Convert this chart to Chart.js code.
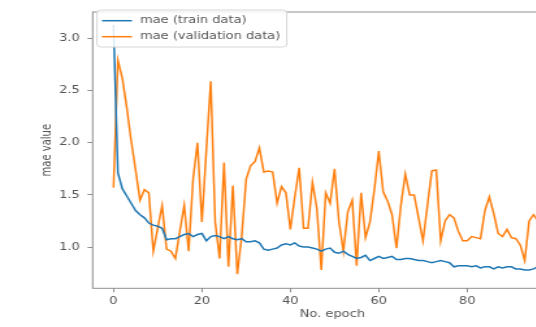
<!DOCTYPE html>
<html>
<head>
<meta charset="utf-8">
<script src="https://cdn.jsdelivr.net/npm/chart.js@4.4.1/dist/chart.umd.min.js"></script>
<style>
  html, body { margin: 0; padding: 0; background: #fff; overflow: hidden; }
  #wrap { width: 536px; height: 327px; overflow: hidden; position: relative; }
  /* the reference is stretched sideways, so the canvas is too */
  #chart { position: absolute; left: 0; top: 0; width: 460px; height: 327px;
           transform: scaleX(1.3); transform-origin: 0 0; }
</style>
</head>
<body>
<div id="wrap"><canvas id="chart" width="460" height="327"></canvas></div>
<script>
/* ====================
   DATA
==================== */
const trainMae = [
  3.13, 1.71, 1.56, 1.49, 1.42, 1.35, 1.31, 1.28, 1.23, 1.21,
  1.20, 1.18, 1.07, 1.08, 1.08, 1.10, 1.12, 1.13, 1.10, 1.12,
  1.13, 1.06, 1.10, 1.11, 1.10, 1.08, 1.10, 1.08, 1.07, 1.08,
  1.05, 1.05, 1.06, 1.04, 0.98, 0.97, 0.98, 0.99, 1.02, 1.03,
  1.02, 1.04, 1.01, 1.00, 1.00, 0.99, 0.98, 0.96, 0.98, 0.99,
  0.95, 0.94, 0.96, 0.93, 0.91, 0.89, 0.90, 0.92, 0.87, 0.89,
  0.91, 0.89, 0.90, 0.91, 0.88, 0.88, 0.89, 0.89, 0.88, 0.87,
  0.87, 0.86, 0.85, 0.86, 0.87, 0.86, 0.85, 0.81, 0.82, 0.82,
  0.82, 0.81, 0.82, 0.80, 0.81, 0.81, 0.79, 0.81, 0.80, 0.81,
  0.81, 0.79, 0.79, 0.78, 0.78, 0.79, 0.81
];
const valMae = [
  1.57, 2.79, 2.62, 2.34, 2.02, 1.74, 1.45, 1.55, 1.52, 0.96,
  1.18, 1.40, 0.98, 0.96, 0.89, 1.15, 1.40, 0.96, 1.65, 2.00,
  1.24, 1.93, 2.59, 1.24, 0.89, 1.81, 0.81, 1.59, 0.74, 1.10,
  1.65, 1.78, 1.82, 1.95, 1.72, 1.73, 1.72, 1.42, 1.58, 1.52,
  1.17, 1.48, 1.76, 1.18, 1.18, 1.62, 1.37, 0.78, 1.52, 1.42,
  1.75, 1.24, 0.96, 1.34, 1.45, 0.82, 1.52, 1.09, 1.24, 1.55,
  1.92, 1.53, 1.44, 1.31, 0.99, 1.40, 1.70, 1.50, 1.50, 1.28,
  1.06, 1.40, 1.73, 1.74, 1.06, 1.25, 1.31, 1.28, 1.15, 1.06,
  1.06, 1.10, 1.09, 1.08, 1.35, 1.48, 1.32, 1.13, 1.10, 1.17,
  1.09, 1.08, 1.02, 0.87, 1.25, 1.31, 1.25
];
const epochs = trainMae.map((_, i) => i);

const xTicks = [0, 20, 40, 60, 80];
const yTicks = [1.0, 1.5, 2.0, 2.5, 3.0];
const yTickLabels = ["1.0", "1.5", "2.0", "2.5", "3.0"];

const seriesLabels = ["mae (train data)", "mae (validation data)"];

/* ====================
   STYLE
==================== */
const FONT = { family: "'DejaVu Sans', sans-serif", size: 10 };
const TEXT = "#555";
const SPINE = "#8f8f8f";

/* ====================
   PLUGINS
==================== */
// axes frame + matplotlib style legend inside the plot
const framePlugin = {
  id: "frame",
  afterDatasetsDraw(chart) {
    const { ctx, chartArea: a } = chart;
    ctx.save();
    ctx.strokeStyle = SPINE;
    ctx.lineWidth = 1;
    ctx.strokeRect(a.left, a.top, a.right - a.left, a.bottom - a.top);

    // legend
    const bx = a.left + 3.3, by = 10, bw = 146, bh = 37;
    ctx.beginPath();
    ctx.roundRect(bx, by, bw, bh, 3);
    ctx.fillStyle = "rgba(255,255,255,0.85)";
    ctx.fill();
    ctx.strokeStyle = "#d6d6d6";
    ctx.stroke();

    ctx.font = `${FONT.size}px ${FONT.family}`;
    ctx.textBaseline = "middle";
    chart.data.datasets.forEach((ds, i) => {
      const y = by + 10.7 + i * 16;
      ctx.strokeStyle = ds.borderColor;
      ctx.lineWidth = 1.5;
      ctx.beginPath();
      ctx.moveTo(a.left + 7.2, y);
      ctx.lineTo(a.left + 30.2, y);
      ctx.stroke();
      ctx.fillStyle = TEXT;
      ctx.fillText(ds.label, a.left + 36.4, y);
    });
    ctx.restore();
  }
};

/* ====================
   CHART
==================== */
new Chart(document.getElementById("chart"), {
  type: "line",
  data: {
    labels: epochs,
    datasets: [
      {
        label: seriesLabels[0],
        data: trainMae,
        borderColor: "#1f77b4",
        borderWidth: 1.5,
        pointRadius: 0,
        tension: 0
      },
      {
        label: seriesLabels[1],
        data: valMae,
        borderColor: "#ff7f0e",
        borderWidth: 1.5,
        pointRadius: 0,
        tension: 0
      }
    ]
  },
  options: {
    responsive: false,
    animation: false,
    layout: { padding: { left: 0, top: 5.3, right: 20, bottom: 0 } },
    plugins: {
      legend: { display: false },
      tooltip: { enabled: false }
    },
    scales: {
      x: {
        type: "linear",
        min: -4.7,
        max: 103.7,
        afterBuildTicks: s => { s.ticks = xTicks.map(v => ({ value: v })); },
        afterFit: s => { s.height = 38.7; },
        ticks: { color: TEXT, font: FONT, padding: 3, maxRotation: 0, autoSkip: false },
        grid: { drawOnChartArea: false, tickLength: 4, tickColor: SPINE, tickWidth: 1 },
        border: { display: false },
        title: { display: true, text: "No. epoch", color: TEXT, font: FONT, padding: { top: 0, bottom: 7 } }
      },
      y: {
        min: 0.604,
        max: 3.255,
        afterBuildTicks: s => { s.ticks = yTicks.map(v => ({ value: v })); },
        afterFit: s => { s.width = 71.3; },
        ticks: {
          color: TEXT,
          font: FONT,
          padding: 6,
          callback: v => yTickLabels[yTicks.indexOf(v)]
        },
        grid: { drawOnChartArea: false, tickLength: 4, tickColor: SPINE, tickWidth: 1 },
        border: { display: false },
        title: { display: true, text: "mae value", color: TEXT, font: FONT, padding: { top: 30, bottom: 0 } }
      }
    }
  },
  plugins: [framePlugin]
});
</script>
</body>
</html>
